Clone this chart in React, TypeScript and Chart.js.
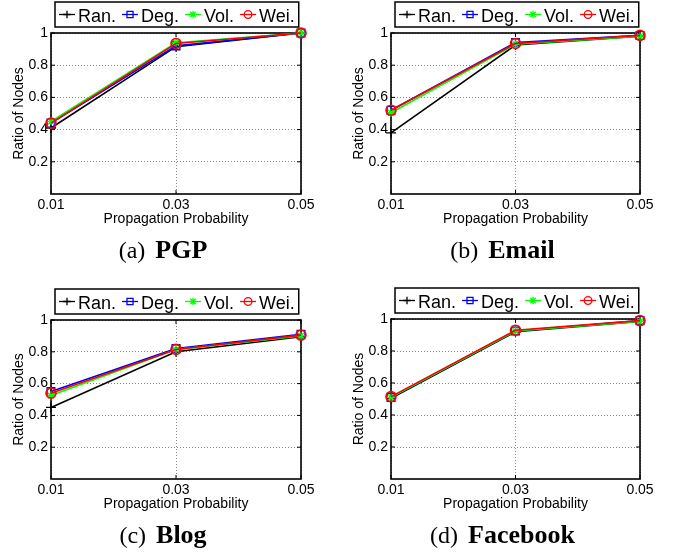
import React, { useEffect, useRef } from 'react';
import { Chart, registerables } from 'chart.js';

Chart.register(...registerables);

// ---------------- data ----------------
const probabilities = ['0.01', '0.03', '0.05'];
const yTickValues = [0.2, 0.4, 0.6, 0.8, 1];
const methodNames = ['Ran.', 'Deg.', 'Vol.', 'Wei.'];

const pgpRan = [0.41, 0.915, 1.0];
const pgpDeg = [0.44, 0.92, 1.0];
const pgpVol = [0.45, 0.94, 1.0];
const pgpWei = [0.44, 0.935, 1.0];

const emailRan = [0.38, 0.925, 0.98];
const emailDeg = [0.52, 0.94, 0.985];
const emailVol = [0.505, 0.93, 0.98];
const emailWei = [0.52, 0.935, 0.985];

const blogRan = [0.45, 0.8, 0.895];
const blogDeg = [0.55, 0.82, 0.91];
const blogVol = [0.525, 0.815, 0.9];
const blogWei = [0.54, 0.815, 0.905];

const fbRan = [0.505, 0.92, 0.985];
const fbDeg = [0.51, 0.925, 0.99];
const fbVol = [0.51, 0.925, 0.985];
const fbWei = [0.515, 0.93, 0.99];

// ---------------- styles ----------------
const methodColors = ['#000000', '#0000ff', '#00ff00', '#ff0000'];
const methodMarkers = ['cross', 'rect', 'star', 'circle'];
const markerSizes = [5, 5.5, 4, 5];
const SANS = "'Liberation Sans', Arial, Helvetica, sans-serif";
const SERIF = "'Liberation Serif', 'Times New Roman', Times, serif";

Chart.defaults.font.family = SANS;
Chart.defaults.color = '#000';

const framePlugin = {
  id: 'frame',
  beforeDatasetsDraw(chart: any) {
    const { ctx, chartArea: a, scales } = chart;
    ctx.save();
    ctx.strokeStyle = '#000';
    ctx.lineWidth = 1;
    const tl = 4;
    yTickValues.forEach((v) => {
      const py = scales.y.getPixelForValue(v);
      ctx.beginPath();
      ctx.moveTo(a.left, py); ctx.lineTo(a.left + tl, py);
      ctx.moveTo(a.right, py); ctx.lineTo(a.right - tl, py);
      ctx.stroke();
    });
    probabilities.forEach((_, i) => {
      const px = scales.x.getPixelForValue(i);
      ctx.beginPath();
      ctx.moveTo(px, a.bottom); ctx.lineTo(px, a.bottom - tl);
      ctx.moveTo(px, a.top); ctx.lineTo(px, a.top + tl);
      ctx.stroke();
    });
    ctx.lineWidth = 1.6;
    ctx.strokeRect(a.left, a.top, a.right - a.left, a.bottom - a.top);
    ctx.restore();
  },
};

function drawMarker(ctx: CanvasRenderingContext2D, style: string, x: number, y: number, r: number) {
  ctx.beginPath();
  if (style === 'cross') {
    ctx.moveTo(x - r, y); ctx.lineTo(x + r, y);
    ctx.moveTo(x, y - r); ctx.lineTo(x, y + r);
  } else if (style === 'rect') {
    const s = r * 0.8;
    ctx.rect(x - s, y - s, 2 * s, 2 * s);
  } else if (style === 'star') {
    const d = r * 0.707;
    ctx.moveTo(x - r, y); ctx.lineTo(x + r, y);
    ctx.moveTo(x, y - r); ctx.lineTo(x, y + r);
    ctx.moveTo(x - d, y - d); ctx.lineTo(x + d, y + d);
    ctx.moveTo(x - d, y + d); ctx.lineTo(x + d, y - d);
  } else {
    ctx.arc(x, y, r, 0, Math.PI * 2);
  }
  ctx.stroke();
}

const legendPlugin = {
  id: 'boxLegend',
  afterDraw(chart: any) {
    const { ctx, chartArea: a } = chart;
    ctx.save();
    ctx.font = `18px ${SANS}`;
    const items = chart.data.datasets.map((ds: any) => ({
      label: ds.label,
      color: ds.borderColor,
      style: ds.pointStyle,
      w: ctx.measureText(ds.label).width,
    }));
    const pad = 4, lineLen = 16, gapText = 3, gapItem = 6, boxH = 25;
    const total = pad * 2 + items.reduce((s: number, it: any) => s + lineLen + gapText + it.w, 0) + gapItem * (items.length - 1);
    const x0 = a.left + 4;
    const y0 = a.top - 6 - boxH;
    ctx.fillStyle = '#fff';
    ctx.fillRect(x0, y0, total, boxH);
    ctx.strokeStyle = '#000';
    ctx.lineWidth = 1.5;
    ctx.strokeRect(x0, y0, total, boxH);
    let x = x0 + pad;
    const cy = y0 + boxH / 2;
    items.forEach((it: any) => {
      ctx.strokeStyle = it.color;
      ctx.lineWidth = 1.3;
      ctx.beginPath();
      ctx.moveTo(x, cy); ctx.lineTo(x + lineLen, cy);
      ctx.stroke();
      drawMarker(ctx, it.style, x + lineLen / 2, cy, 3.8);
      ctx.fillStyle = '#000';
      ctx.textBaseline = 'alphabetic';
      ctx.textAlign = 'left';
      ctx.fillText(it.label, x + lineLen + gapText, y0 + 20);
      x += lineLen + gapText + it.w + gapItem;
    });
    ctx.restore();
  },
};

const captionPlugin = {
  id: 'caption',
  afterDraw(chart: any) {
    const { ctx, chartArea: a } = chart;
    const o = chart.options.plugins.caption;
    ctx.save();
    const fontA = `24px ${SERIF}`;
    const fontB = `bold 26px ${SERIF}`;
    ctx.font = fontA;
    const wA = ctx.measureText(o.letter).width;
    ctx.font = fontB;
    const wB = ctx.measureText(o.name).width;
    const gap = 10;
    const cx = (a.left + a.right) / 2 - 13;
    const start = cx - (wA + gap + wB) / 2;
    const by = a.bottom + 64;
    ctx.fillStyle = '#000';
    ctx.textBaseline = 'alphabetic';
    ctx.textAlign = 'left';
    ctx.font = fontA;
    ctx.fillText(o.letter, start, by);
    ctx.font = fontB;
    ctx.fillText(o.name, start + wA + gap, by);
    ctx.restore();
  },
};

type Pos = { x: number; y: number; w: number; h: number; l: number; r: number; t: number; b: number };

const X_AXIS_H = 36;

function Panel({ pos, series, letter, name }: { pos: Pos; series: number[][]; letter: string; name: string }) {
  const ref = useRef<HTMLCanvasElement>(null);
  useEffect(() => {
    const gridColor = '#8a8a8a';
    const chart = new Chart(ref.current as HTMLCanvasElement, {
      type: 'line',
      data: {
        labels: probabilities,
        datasets: series.map((vals, i) => ({
          label: methodNames[i],
          data: vals,
          borderColor: methodColors[i],
          backgroundColor: 'rgba(0,0,0,0)',
          borderWidth: 1.6,
          pointStyle: methodMarkers[i] as any,
          pointRadius: markerSizes[i],
          pointBorderColor: methodColors[i],
          pointBackgroundColor: 'rgba(0,0,0,0)',
          pointBorderWidth: i === 3 ? 1.6 : 1.3,
          tension: 0,
          clip: false as any,
          order: 4 - i,
        })),
      },
      options: {
        responsive: false,
        animation: false,
        devicePixelRatio: 1,
        layout: {
          padding: { left: 0, right: pos.w - pos.r, top: pos.t, bottom: pos.h - pos.b - X_AXIS_H },
        },
        plugins: {
          legend: { display: false },
          tooltip: { enabled: false },
          caption: { letter, name },
        } as any,
        scales: {
          x: {
            type: 'category',
            offset: false,
            grid: { color: gridColor, lineWidth: 1, drawTicks: false },
            border: { display: false, dash: [1, 2] },
            ticks: { padding: 3, color: '#000', font: { size: 14 }, maxRotation: 0, autoSkip: false },
            title: {
              display: true,
              text: 'Propagation Probability',
              color: '#000',
              font: { size: 14 },
              padding: { top: 0, bottom: 2 },
            },
            afterFit: (s: any) => { s.height = X_AXIS_H; },
          },
          y: {
            type: 'linear',
            min: 0,
            max: 1,
            afterBuildTicks: (s: any) => { s.ticks = yTickValues.map((v) => ({ value: v })); },
            grid: { color: gridColor, lineWidth: 1, drawTicks: false },
            border: { display: false, dash: [1, 2] },
            ticks: { padding: 3, color: '#000', font: { size: 14 }, callback: (v: any) => String(v) },
            title: {
              display: true,
              text: 'Ratio of Nodes',
              color: '#000',
              font: { size: 14 },
              padding: { top: pos.l - 32 - 8.4, bottom: 0 },
            },
            afterFit: (s: any) => { s.width = pos.l; },
          },
        },
      } as any,
      plugins: [framePlugin, legendPlugin, captionPlugin],
    });
    return () => chart.destroy();
  }, []);
  return (
    <canvas
      ref={ref}
      width={pos.w}
      height={pos.h}
      style={{ position: 'absolute', left: pos.x, top: pos.y, width: pos.w, height: pos.h }}
    />
  );
}

const posA: Pos = { x: 0, y: 0, w: 337, h: 278, l: 51, r: 301, t: 33, b: 194 };
const posB: Pos = { x: 337, y: 0, w: 338, h: 278, l: 54, r: 303, t: 33, b: 194 };
const posC: Pos = { x: 0, y: 278, w: 337, h: 277, l: 51, r: 301, t: 42, b: 201 };
const posD: Pos = { x: 337, y: 278, w: 338, h: 277, l: 54, r: 303, t: 41, b: 201 };

export default function App() {
  return (
    <div style={{ position: 'absolute', left: 0, top: 0, width: 675, height: 555, background: '#fff' }}>
      <Panel pos={posA} series={[pgpRan, pgpDeg, pgpVol, pgpWei]} letter="(a)" name="PGP" />
      <Panel pos={posB} series={[emailRan, emailDeg, emailVol, emailWei]} letter="(b)" name="Email" />
      <Panel pos={posC} series={[blogRan, blogDeg, blogVol, blogWei]} letter="(c)" name="Blog" />
      <Panel pos={posD} series={[fbRan, fbDeg, fbVol, fbWei]} letter="(d)" name="Facebook" />
    </div>
  );
}
